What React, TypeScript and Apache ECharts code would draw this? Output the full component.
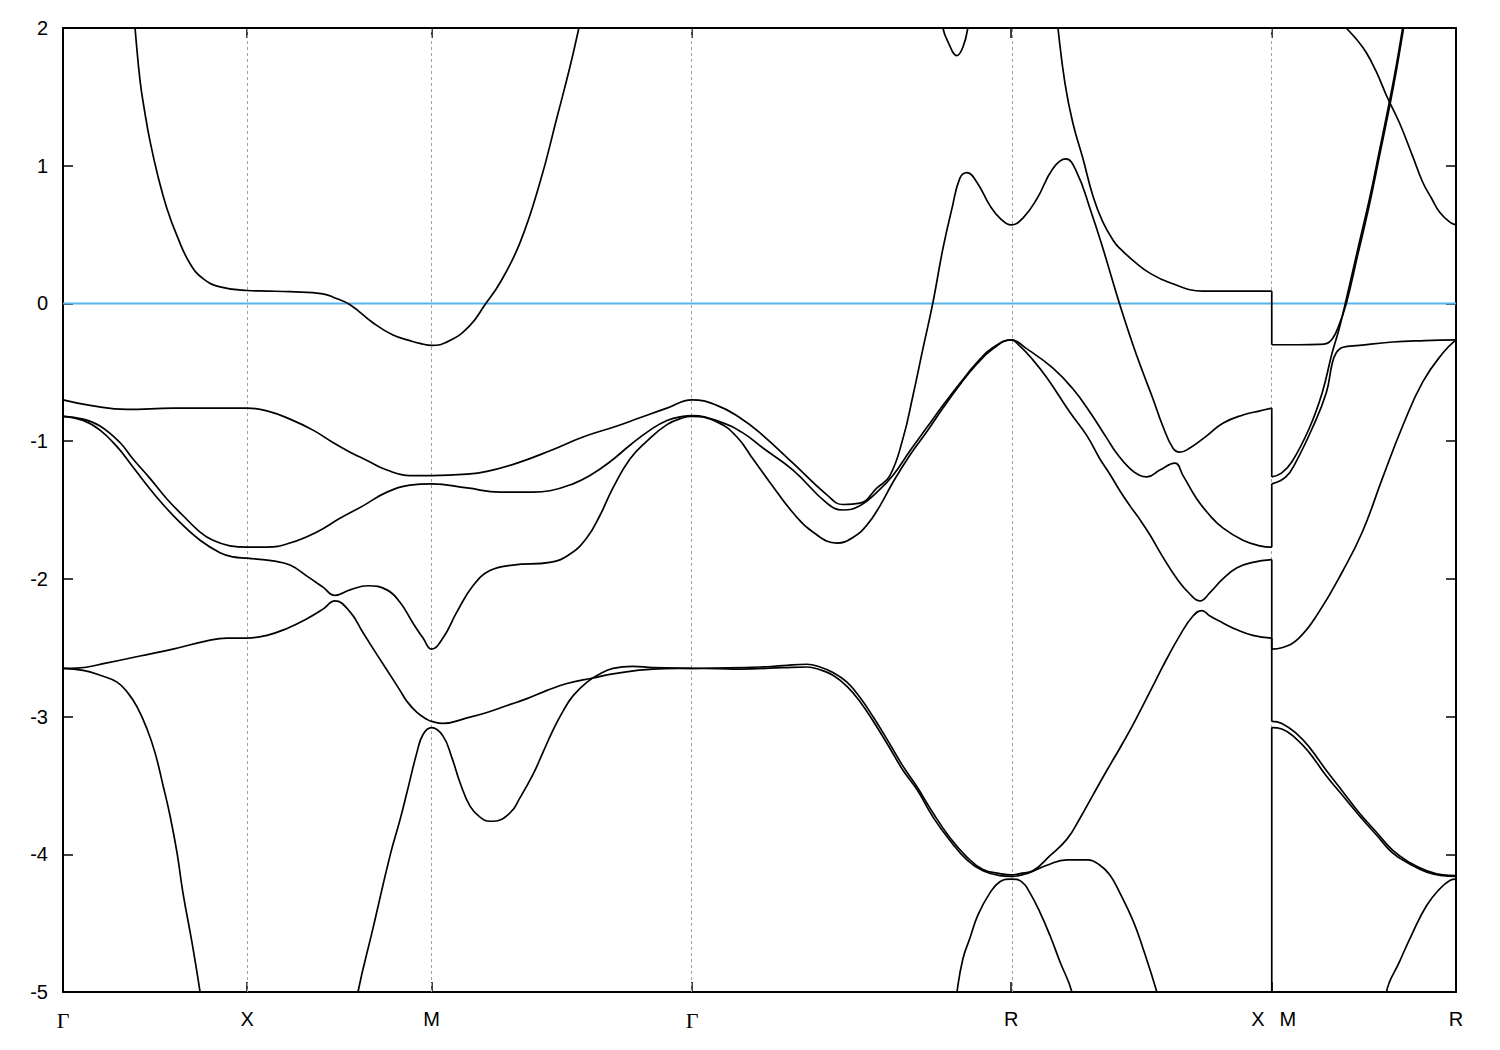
import React, { useEffect, useRef } from "react";
import * as echarts from "echarts";

type Pt = [number, number];

// high-symmetry positions along the k-path (units of Γ–X)
const kHighSym = [1, 2, 3.4142, 5.1463, 6.5605];
const kMax = 7.5605;
const xLabelK = [0, 1, 2, 3.4142, 5.1463, 6.485, 6.648, 7.5605];
const xLabelText = ["Γ", "X", "M", "Γ", "R", "X", "M", "R"];
const yMin = -5;
const yMax = 2;

// bands: each band is a list of continuous pieces of [k, E(eV)]
const bandZ: Pt[][] = [
  [[4.83, -5.25], [4.852, -5.0], [4.884, -4.76], [4.922, -4.61], [4.966, -4.44], [5.031, -4.28], [5.085, -4.2], [5.146, -4.18], [5.204, -4.2], [5.248, -4.28], [5.302, -4.42], [5.357, -4.59], [5.411, -4.78], [5.476, -5.0], [5.498, -5.2]],
  [[7.167, -5.25], [7.183, -5.0], [7.254, -4.78], [7.325, -4.57], [7.402, -4.37], [7.473, -4.25], [7.527, -4.19], [7.5605, -4.18]],
];

const bandA: Pt[][] = [
  [[0, -2.65], [0.109, -2.665], [0.201, -2.7], [0.293, -2.75], [0.353, -2.83], [0.402, -2.93], [0.456, -3.09], [0.499, -3.26], [0.543, -3.5], [0.581, -3.72], [0.619, -3.99], [0.651, -4.28], [0.7, -4.64], [0.744, -5.0], [0.771, -5.25]],
  [[1.568, -5.3], [1.601, -5.0], [1.682, -4.54], [1.775, -4.01], [1.829, -3.75], [1.867, -3.55], [1.921, -3.26], [1.954, -3.13], [2.0, -3.08], [2.062, -3.14], [2.111, -3.3], [2.155, -3.48], [2.209, -3.65], [2.263, -3.73], [2.317, -3.76], [2.334, -3.76], [2.426, -3.7], [2.48, -3.59], [2.551, -3.42], [2.605, -3.26], [2.659, -3.1], [2.714, -2.96], [2.768, -2.85], [2.844, -2.75], [2.914, -2.69], [2.985, -2.65], [3.093, -2.635], [3.202, -2.645], [3.414, -2.65], [3.549, -2.652], [3.674, -2.655], [3.907, -2.645], [4.038, -2.64], [4.108, -2.66], [4.179, -2.7], [4.255, -2.78], [4.325, -2.89], [4.396, -3.03], [4.488, -3.23], [4.559, -3.39], [4.635, -3.53], [4.722, -3.73], [4.814, -3.9], [4.906, -4.04], [4.993, -4.12], [5.085, -4.155], [5.146, -4.16], [5.232, -4.14], [5.34, -4.08], [5.449, -4.04], [5.563, -4.04], [5.628, -4.08], [5.682, -4.15], [5.736, -4.28], [5.807, -4.48], [5.861, -4.68], [5.937, -5.0], [5.964, -5.15]],
  [[6.5605, -3.08], [6.615, -3.09], [6.692, -3.16], [6.763, -3.26], [6.856, -3.43], [6.943, -3.57], [7.036, -3.72], [7.129, -3.86], [7.216, -3.99], [7.309, -4.07], [7.402, -4.13], [7.489, -4.155], [7.5605, -4.16]],
];

const bandB: Pt[][] = [
  [[0, -2.65], [0.076, -2.648], [0.239, -2.61], [0.418, -2.56], [0.597, -2.51], [0.781, -2.45], [0.89, -2.43], [1.0, -2.43], [1.107, -2.41], [1.216, -2.36], [1.324, -2.29], [1.411, -2.22], [1.476, -2.16], [1.558, -2.24], [1.628, -2.39], [1.704, -2.55], [1.791, -2.73], [1.829, -2.81], [1.867, -2.89], [1.921, -2.97], [1.975, -3.02], [2.0, -3.035], [2.062, -3.05], [2.193, -3.01], [2.301, -2.97], [2.41, -2.92], [2.518, -2.87], [2.627, -2.81], [2.735, -2.76], [2.876, -2.72], [2.985, -2.69], [3.202, -2.655], [3.414, -2.65], [3.549, -2.648], [3.783, -2.64], [3.907, -2.63], [4.038, -2.62], [4.108, -2.64], [4.179, -2.68], [4.255, -2.75], [4.325, -2.86], [4.396, -3.0], [4.488, -3.2], [4.559, -3.36], [4.635, -3.51], [4.722, -3.7], [4.814, -3.88], [4.906, -4.02], [4.993, -4.11], [5.085, -4.14], [5.146, -4.15], [5.194, -4.14], [5.264, -4.12], [5.357, -4.01], [5.449, -3.89], [5.519, -3.74], [5.59, -3.57], [5.666, -3.39], [5.736, -3.23], [5.807, -3.06], [5.861, -2.92], [5.937, -2.72], [5.991, -2.58], [6.062, -2.41], [6.133, -2.27], [6.181, -2.23], [6.225, -2.27], [6.295, -2.32], [6.372, -2.37], [6.458, -2.41], [6.5605, -2.43]],
  [[6.5605, -3.035], [6.615, -3.05], [6.692, -3.12], [6.763, -3.22], [6.856, -3.39], [6.943, -3.54], [7.036, -3.7], [7.129, -3.84], [7.216, -3.97], [7.309, -4.06], [7.402, -4.12], [7.489, -4.15], [7.5605, -4.155]],
];

const bandC: Pt[][] = [
  [[0, -0.82], [0.109, -0.85], [0.201, -0.92], [0.293, -1.04], [0.364, -1.16], [0.456, -1.32], [0.543, -1.46], [0.635, -1.59], [0.744, -1.72], [0.852, -1.81], [0.923, -1.84], [1.0, -1.85], [1.14, -1.87], [1.232, -1.9], [1.324, -1.98], [1.411, -2.06], [1.476, -2.12], [1.558, -2.08], [1.655, -2.05], [1.758, -2.08], [1.829, -2.17], [1.899, -2.32], [1.954, -2.43], [2.0, -2.51], [2.062, -2.43], [2.138, -2.24], [2.225, -2.05], [2.317, -1.94], [2.442, -1.9], [2.643, -1.88], [2.752, -1.82], [2.844, -1.7], [2.914, -1.54], [2.985, -1.34], [3.077, -1.13], [3.169, -1.0], [3.278, -0.88], [3.365, -0.83], [3.414, -0.82], [3.549, -0.86], [3.658, -0.97], [3.745, -1.13], [3.837, -1.3], [3.962, -1.52], [4.07, -1.66], [4.201, -1.74], [4.287, -1.7], [4.363, -1.61], [4.434, -1.47], [4.504, -1.3], [4.597, -1.1], [4.689, -0.93], [4.776, -0.76], [4.868, -0.59], [4.96, -0.44], [5.047, -0.33], [5.146, -0.265], [5.194, -0.31], [5.264, -0.41], [5.34, -0.54], [5.465, -0.79], [5.557, -0.96], [5.628, -1.13], [5.682, -1.24], [5.736, -1.36], [5.791, -1.47], [5.845, -1.57], [5.899, -1.68], [5.969, -1.84], [6.046, -2.0], [6.116, -2.11], [6.171, -2.16], [6.225, -2.1], [6.295, -2.0], [6.372, -1.92], [6.458, -1.88], [6.5605, -1.86]],
  [[6.5605, -2.51], [6.615, -2.5], [6.708, -2.43], [6.817, -2.24], [6.943, -1.95], [7.052, -1.66], [7.161, -1.27], [7.271, -0.89], [7.38, -0.57], [7.489, -0.36], [7.5605, -0.265]],
];

const bandD: Pt[][] = [
  [[0, -0.82], [0.109, -0.84], [0.201, -0.89], [0.309, -1.01], [0.38, -1.13], [0.472, -1.27], [0.564, -1.42], [0.651, -1.54], [0.744, -1.66], [0.814, -1.72], [0.906, -1.76], [1.0, -1.77], [1.107, -1.77], [1.232, -1.74], [1.378, -1.66], [1.503, -1.56], [1.628, -1.47], [1.758, -1.37], [1.883, -1.32], [2.0, -1.31], [2.193, -1.34], [2.372, -1.37], [2.551, -1.37], [2.643, -1.36], [2.768, -1.31], [2.86, -1.25], [2.969, -1.15], [3.077, -1.03], [3.186, -0.92], [3.278, -0.85], [3.365, -0.82], [3.414, -0.815], [3.566, -0.86], [3.69, -0.94], [3.799, -1.05], [3.962, -1.21], [4.146, -1.45], [4.233, -1.5], [4.325, -1.47], [4.418, -1.37], [4.504, -1.25], [4.597, -1.07], [4.689, -0.9], [4.776, -0.74], [4.868, -0.58], [4.96, -0.43], [5.047, -0.32], [5.146, -0.265], [5.232, -0.33], [5.373, -0.47], [5.481, -0.62], [5.574, -0.79], [5.666, -0.98], [5.72, -1.09], [5.791, -1.2], [5.845, -1.25], [5.883, -1.26], [5.953, -1.21], [6.035, -1.16], [6.079, -1.25], [6.154, -1.42], [6.225, -1.54], [6.295, -1.63], [6.404, -1.72], [6.496, -1.76], [6.5605, -1.77]],
  [[6.5605, -1.31], [6.637, -1.26], [6.692, -1.15], [6.779, -0.91], [6.856, -0.65], [6.888, -0.44], [6.91, -0.36], [6.943, -0.32], [7.036, -0.305], [7.216, -0.28], [7.391, -0.27], [7.5605, -0.265]],
];

const bandE: Pt[][] = [
  [[0, -0.7], [0.147, -0.74], [0.347, -0.77], [0.597, -0.76], [1.0, -0.76], [1.107, -0.78], [1.232, -0.84], [1.357, -0.92], [1.465, -1.01], [1.558, -1.08], [1.65, -1.14], [1.758, -1.21], [1.883, -1.25], [2.0, -1.25], [2.193, -1.24], [2.301, -1.22], [2.464, -1.16], [2.643, -1.07], [2.822, -0.97], [3.007, -0.89], [3.131, -0.83], [3.278, -0.76], [3.414, -0.7], [3.549, -0.74], [3.674, -0.83], [3.783, -0.94], [3.962, -1.16], [4.146, -1.39], [4.233, -1.46], [4.325, -1.45], [4.418, -1.34], [4.488, -1.25], [4.559, -0.98], [4.613, -0.67], [4.667, -0.33], [4.722, 0.01], [4.776, 0.4], [4.825, 0.69], [4.868, 0.91], [4.906, 0.95], [4.96, 0.88], [5.031, 0.71], [5.085, 0.62], [5.146, 0.57], [5.21, 0.62], [5.286, 0.76], [5.373, 0.98], [5.443, 1.05], [5.503, 0.95], [5.574, 0.69], [5.644, 0.4], [5.736, -0.01], [5.807, -0.3], [5.861, -0.5], [5.915, -0.69], [5.969, -0.89], [6.024, -1.05], [6.062, -1.08], [6.116, -1.05], [6.209, -0.96], [6.295, -0.87], [6.404, -0.81], [6.496, -0.78], [6.5605, -0.76]],
  [[6.5605, -1.26], [6.615, -1.23], [6.67, -1.15], [6.763, -0.91], [6.834, -0.65], [6.888, -0.36], [6.927, -0.18], [6.965, 0.03], [7.025, 0.38], [7.091, 0.76], [7.145, 1.11], [7.2, 1.47], [7.238, 1.74], [7.271, 2.0], [7.287, 2.13]],
];

const bandF: Pt[][] = [
  [[0.374, 2.28], [0.391, 2.0], [0.418, 1.62], [0.445, 1.38], [0.472, 1.18], [0.516, 0.92], [0.564, 0.69], [0.619, 0.49], [0.689, 0.29], [0.76, 0.18], [0.852, 0.12], [1.0, 0.094], [1.107, 0.09], [1.232, 0.085], [1.411, 0.07], [1.476, 0.04], [1.558, -0.01], [1.682, -0.14], [1.791, -0.23], [1.883, -0.27], [1.937, -0.29], [2.0, -0.305], [2.1, -0.27], [2.209, -0.16], [2.29, -0.01], [2.372, 0.15], [2.48, 0.44], [2.589, 0.88], [2.681, 1.35], [2.752, 1.72], [2.8, 2.0], [2.833, 2.2]],
  [[4.76, 2.25], [4.776, 2.0], [4.803, 1.9], [4.852, 1.8], [4.884, 1.86], [4.911, 2.0], [4.928, 2.25]],
  [[5.384, 2.22], [5.4, 2.0], [5.438, 1.6], [5.481, 1.31], [5.536, 1.05], [5.59, 0.78], [5.644, 0.59], [5.709, 0.44], [5.736, 0.4], [5.818, 0.3], [5.899, 0.22], [6.008, 0.15], [6.187, 0.09], [6.388, 0.09], [6.5605, 0.09]],
  [[6.5605, -0.3], [6.708, -0.3], [6.817, -0.298], [6.861, -0.29], [6.888, -0.26], [6.916, -0.19], [6.965, 0.0], [7.025, 0.34], [7.091, 0.72], [7.145, 1.07], [7.2, 1.43], [7.238, 1.7], [7.271, 1.96], [7.287, 2.1]],
];

const bandG: Pt[][] = [
  [[6.899, 2.1], [6.965, 2.0], [7.019, 1.92], [7.074, 1.82], [7.129, 1.68], [7.183, 1.51], [7.254, 1.31], [7.325, 1.07], [7.38, 0.88], [7.429, 0.76], [7.473, 0.66], [7.527, 0.59], [7.5605, 0.57]],
];

// discontinuity X | M: band energies at X (end of R–X) and at M (start of M–R)
const jumpK = 6.5605;
const jumpAtX = [-5.3, -2.43, -1.86, -1.77, -0.76, 0.09];
const jumpAtM = [-3.08, -3.035, -2.51, -1.31, -1.26, -0.3];

const bands = [bandZ, bandA, bandB, bandC, bandD, bandE, bandF, bandG];

export default function App() {
  const ref = useRef<HTMLDivElement>(null);

  useEffect(() => {
    document.body.style.margin = "0";
    const chart = echarts.init(ref.current!, null, { renderer: "svg" });

    const bandStyle = { color: "#000000", width: 1.7 };
    const series: any[] = [];

    series.push({
      type: "line",
      data: [[0, 0], [kMax, 0]],
      symbol: "none",
      lineStyle: { color: "#56b4e9", width: 2 },
      z: 1,
      markLine: {
        silent: true,
        symbol: ["none", "none"],
        label: { show: false },
        lineStyle: { color: "#a0a0a0", type: [3, 3], width: 1 },
        data: kHighSym.map((k) => ({ xAxis: k })),
        z: 1,
      },
    });

    bands.forEach((band) => {
      band.forEach((piece) => {
        series.push({
          type: "line",
          data: piece,
          symbol: "none",
          smooth: 0.45,
          lineStyle: bandStyle,
          clip: true,
          z: 3,
        });
      });
    });

    jumpAtX.forEach((e, i) => {
      series.push({
        type: "line",
        data: [[jumpK, e], [jumpK, jumpAtM[i]]],
        symbol: "none",
        lineStyle: bandStyle,
        clip: true,
        z: 3,
      });
    });

    const axisLine = { show: true, onZero: false, lineStyle: { color: "#000", width: 2 } };
    const tickStyle = { color: "#000", width: 1.5 };

    const labelFmt = (v: number) => {
      let best = 0;
      let bd = Infinity;
      xLabelK.forEach((k, i) => {
        const d = Math.abs(k - v);
        if (d < bd) { bd = d; best = i; }
      });
      const t = xLabelText[best];
      return t === "Γ" ? "{g|Γ}" : t;
    };

    const option: any = {
      animation: false,
      backgroundColor: "#ffffff",
      grid: { left: 63, right: 44, top: 28, bottom: 58, containLabel: false },
      xAxis: [
        {
          type: "value",
          min: 0,
          max: kMax,
          position: "bottom",
          axisLine,
          axisTick: { show: true, inside: true, length: 10, customValues: kHighSym, lineStyle: tickStyle },
          axisLabel: {
            show: true,
            customValues: xLabelK,
            formatter: labelFmt,
            margin: 17,
            color: "#000",
            fontSize: 20,
            fontFamily: "Liberation Sans, Arial, sans-serif",
            rich: { g: { fontFamily: "Liberation Serif, serif", fontSize: 22, color: "#000" } },
          },
          splitLine: { show: false },
        },
        {
          type: "value",
          min: 0,
          max: kMax,
          position: "top",
          axisLine,
          axisTick: { show: true, inside: true, length: 10, customValues: kHighSym, lineStyle: tickStyle },
          axisLabel: { show: false },
          splitLine: { show: false },
        },
      ],
      yAxis: [
        {
          type: "value",
          min: yMin,
          max: yMax,
          interval: 1,
          position: "left",
          axisLine,
          axisTick: { show: true, inside: true, length: 10, lineStyle: tickStyle },
          axisLabel: { color: "#000", fontSize: 20, margin: 15, fontFamily: "Liberation Sans, Arial, sans-serif" },
          splitLine: { show: false },
        },
        {
          type: "value",
          min: yMin,
          max: yMax,
          interval: 1,
          position: "right",
          axisLine,
          axisTick: { show: true, inside: true, length: 10, lineStyle: tickStyle },
          axisLabel: { show: false },
          splitLine: { show: false },
        },
      ],
      series,
    };

    chart.setOption(option);
    return () => chart.dispose();
  }, []);

  return <div ref={ref} style={{ width: 1500, height: 1050 }} />;
}
